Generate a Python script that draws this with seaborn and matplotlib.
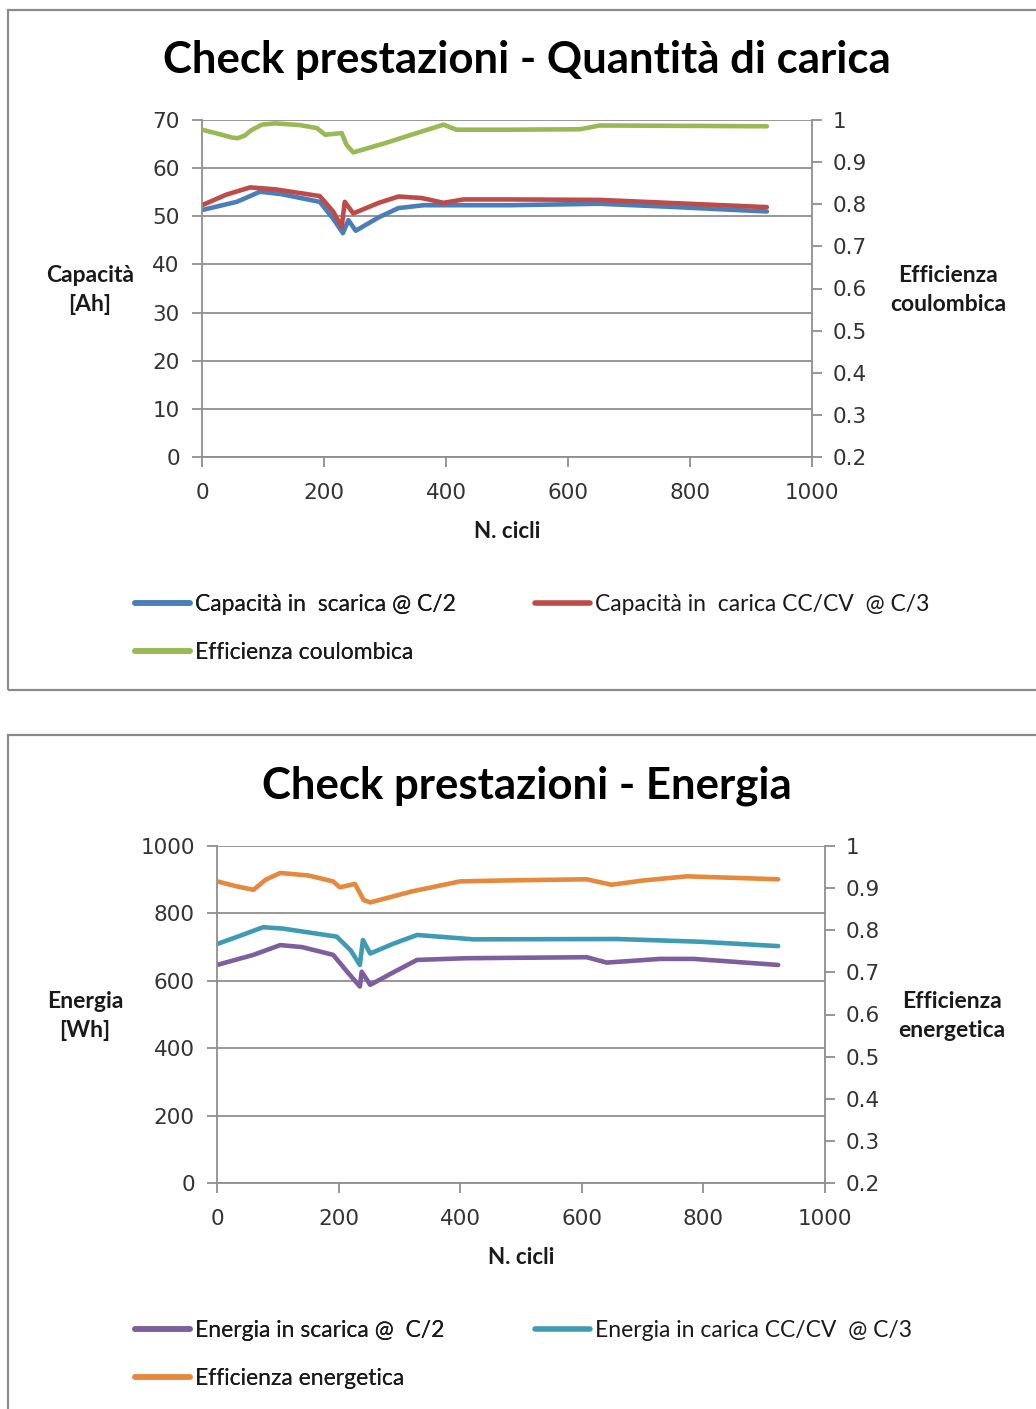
import matplotlib
matplotlib.use("Agg")
import matplotlib.pyplot as plt
from matplotlib.patches import Rectangle
import seaborn as sns
import pandas as pd

# ---------------- data: charge quantity ----------------
cyc_eff_c = [0, 30, 50, 59, 70, 80, 98, 120, 160, 188, 202, 229, 237, 248, 300, 350, 396, 417, 505, 620, 652, 800, 926]
eff_coul = [0.977, 0.966, 0.958, 0.957, 0.963, 0.975, 0.989, 0.992, 0.988, 0.981, 0.965, 0.969, 0.941, 0.923,
            0.945, 0.968, 0.989, 0.977, 0.977, 0.978, 0.987, 0.986, 0.985]

cyc_cap_ch = [0, 40, 79, 120, 193, 215, 229, 234, 248, 290, 322, 360, 396, 429, 505, 652, 762, 926]
cap_charge = [52.3, 54.5, 56.0, 55.6, 54.2, 51.0, 47.8, 53.0, 50.6, 52.8, 54.1, 53.8, 52.8, 53.5,
              53.5, 53.4, 52.8, 51.9]

cyc_cap_dis = [0, 57, 95, 130, 193, 215, 231, 240, 252, 290, 322, 363, 505, 652, 762, 926]
cap_discharge = [51.3, 53.0, 55.1, 54.6, 53.0, 49.5, 46.5, 49.2, 47.0, 49.8, 51.7, 52.3, 52.3,
                 52.6, 52.0, 51.0]

# ---------------- data: energy ----------------
cyc_eff_e = [0, 30, 60, 80, 104, 150, 191, 202, 227, 241, 252, 320, 400, 465, 608, 649, 700, 773, 923]
eff_energy = [0.916, 0.905, 0.896, 0.920, 0.936, 0.930, 0.916, 0.902, 0.910, 0.872, 0.866, 0.892,
              0.916, 0.918, 0.921, 0.908, 0.918, 0.928, 0.921]

cyc_en_ch = [0, 40, 76, 108, 197, 220, 235, 240, 252, 290, 329, 422, 657, 794, 923]
en_charge = [709, 735, 759, 755, 731, 690, 647, 721, 681, 710, 736, 723, 724, 716, 703]

cyc_en_dis = [0, 60, 104, 140, 191, 215, 235, 238, 252, 290, 329, 411, 608, 641, 729, 784, 923]
en_discharge = [647, 677, 706, 700, 677, 625, 583, 627, 588, 625, 662, 667, 670, 654, 665, 665, 647]

labels_q = ["Capacità in  scarica @ C/2", "Capacità in  carica CC/CV  @ C/3", "Efficienza coulombica"]
labels_e = ["Energia in scarica @  C/2", "Energia in carica CC/CV  @ C/3", "Efficienza energetica"]

C_BLUE, C_RED, C_GREEN = "#4A7EBB", "#BE4B48", "#98B954"
C_PURPLE, C_TEAL, C_ORANGE = "#7D5F9E", "#3F9BB3", "#E58A3C"

sns.set_theme(style="white")
plt.rcParams["font.family"] = ["DejaVu Sans"]

W, H = 1036, 1409
fig = plt.figure(figsize=(W / 100, H / 100), dpi=100)
GRID = "#8f8f8f"
TXT = "#1a1a1a"
TICK_TXT = "#333333"
TITLE_FONT = ["Lato", "DejaVu Sans"]
LEG_FONT = {"family": TITLE_FONT, "size": 16.5}


def px_axes(l, t, r, b):
    return [l / W, 1 - b / H, (r - l) / W, (b - t) / H]


def panel(rect_px, title, title_y, left_lab, right_lab, lab_y, left_lab_x, right_lab_x,
          xlab_y, series_left, series_right, ylim, ystep, leg_labels, leg_y, leg_x2):
    ax = fig.add_axes(px_axes(*rect_px))
    ax2 = ax.twinx()
    handles = []
    for x, y, c in series_left:
        df = pd.DataFrame({"x": x, "y": y})
        sns.lineplot(data=df, x="x", y="y", ax=ax, color=c, lw=3.3, sort=False)
        handles.append(ax.lines[-1])
    x, y, c = series_right
    df = pd.DataFrame({"x": x, "y": y})
    sns.lineplot(data=df, x="x", y="y", ax=ax2, color=c, lw=3.3, sort=False)
    handles.append(ax2.lines[-1])
    for ln in ax.lines + ax2.lines:
        ln.set_solid_joinstyle("round")
        ln.set_solid_capstyle("round")

    ax.set_xlim(0, 1000)
    ax.set_ylim(*ylim)
    ax.set_yticks(range(ylim[0], ylim[1] + 1, ystep))
    ax.set_xticks(range(0, 1001, 200))
    ax2.set_ylim(0.2, 1.0)
    ax2.set_yticks([0.2, 0.3, 0.4, 0.5, 0.6, 0.7, 0.8, 0.9, 1.0])
    ax2.set_yticklabels(["0.2", "0.3", "0.4", "0.5", "0.6", "0.7", "0.8", "0.9", "1"])
    ax.yaxis.grid(True, color=GRID, lw=1.3)
    ax.set_axisbelow(True)
    ax.set_xlabel("")
    ax.set_ylabel("")
    ax2.set_ylabel("")
    for a in (ax, ax2):
        for s in a.spines.values():
            s.set_visible(False)
    ax.spines["left"].set_visible(True)
    ax.spines["bottom"].set_visible(True)
    ax2.spines["right"].set_visible(True)
    for s in (ax.spines["left"], ax.spines["bottom"], ax2.spines["right"]):
        s.set_color(GRID)
        s.set_linewidth(1.3)
    ax.tick_params(axis="both", which="both", direction="out", length=7, width=1.3,
                   color=GRID, labelsize=15.5, labelcolor=TICK_TXT, left=True, bottom=True)
    ax.tick_params(axis="y", pad=9)
    ax.tick_params(axis="x", pad=12)
    ax2.tick_params(axis="y", direction="out", length=7, width=1.3, color=GRID,
                    labelsize=15.5, labelcolor=TICK_TXT, pad=8, right=True)

    fig.text(527 / W, 1 - title_y / H, title, ha="center", va="center", fontsize=31.5,
             family=TITLE_FONT, weight="bold", color="black")
    for txt, xx in ((left_lab, left_lab_x), (right_lab, right_lab_x)):
        fig.text(xx / W, 1 - lab_y / H, txt, ha="center", va="center", fontsize=16.5,
                 family=TITLE_FONT, weight="bold", color=TXT, linespacing=1.5)
    cx = (rect_px[0] + rect_px[2]) / 2
    fig.text(cx / W, 1 - xlab_y / H, "N. cicli", ha="center", va="center", fontsize=16,
             family=TITLE_FONT, weight="bold", color=TXT)

    # legend: two items on the first row, one on the second
    top = 1 - (leg_y - 10) / H
    leg = fig.legend([handles[0], handles[2]], [leg_labels[0], leg_labels[2]], loc="upper left",
                     bbox_to_anchor=(135 / W, top), frameon=False, handlelength=2.4,
                     handletextpad=0.2, labelspacing=1.17, borderpad=0, borderaxespad=0,
                     prop=LEG_FONT)
    fig.add_artist(leg)
    leg2 = fig.legend([handles[1]], [leg_labels[1]], loc="upper left",
                      bbox_to_anchor=(leg_x2 / W, top), frameon=False, handlelength=2.4,
                      handletextpad=0.2, borderpad=0, borderaxespad=0, prop=LEG_FONT)
    for lg in (leg, leg2):
        for ln in lg.get_lines():
            ln.set_linewidth(4)
        for t in lg.get_texts():
            t.set_color(TXT)
    return ax, ax2


# panel frames
fig.add_artist(Rectangle((8 / W, 1 - 690 / H), 1.2, (690 - 10) / H, transform=fig.transFigure,
                         fill=False, edgecolor="#8a8a8a", lw=1.6))
fig.add_artist(Rectangle((8 / W, -0.2), 1.2, 0.2 + (1409 - 735) / H, transform=fig.transFigure,
                         fill=False, edgecolor="#8a8a8a", lw=1.6))

panel((202, 120, 812, 457), "Check prestazioni - Quantità di carica", 60,
      "Capacità\n[Ah]", "Efficienza\ncoulombica", 290, 90, 948, 532,
      [(cyc_cap_dis, cap_discharge, C_BLUE), (cyc_cap_ch, cap_charge, C_RED)],
      (cyc_eff_c, eff_coul, C_GREEN), (0, 70), 10, labels_q, 604, 535)

panel((217, 846, 825, 1183), "Check prestazioni - Energia", 786,
      "Energia\n[Wh]", "Efficienza\nenergetica", 1016, 85, 952, 1258,
      [(cyc_en_dis, en_discharge, C_PURPLE), (cyc_en_ch, en_charge, C_TEAL)],
      (cyc_eff_e, eff_energy, C_ORANGE), (0, 1000), 200, labels_e, 1330, 535)

fig.savefig("out.png", dpi=100, facecolor="white")
